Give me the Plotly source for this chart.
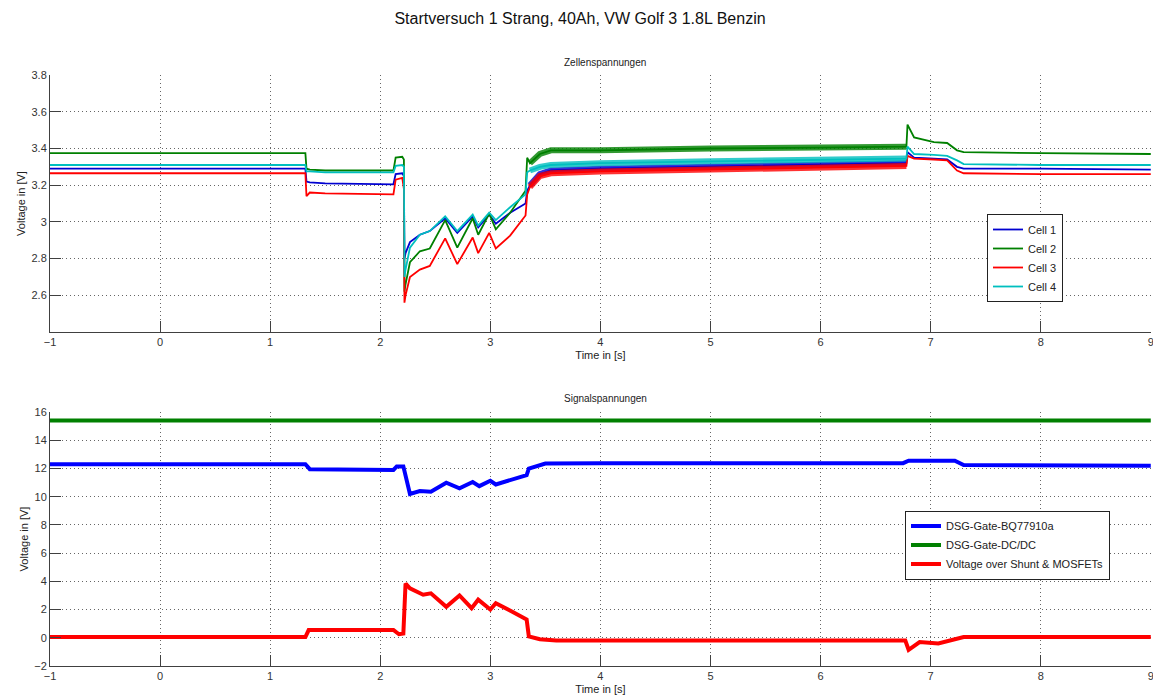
import plotly.graph_objects as go

# ---------------- data ----------------
t_cell = [-1, 1.32, 1.33, 1.36, 1.5, 2.12, 2.14, 2.20, 2.215, 2.22, 2.23, 2.27, 2.36, 2.45,
          2.59, 2.70, 2.84, 2.89, 2.99, 3.05, 3.18, 3.32, 3.335, 3.36, 3.45, 3.55, 4.0, 5.0,
          6.0, 6.78, 6.79, 6.85, 7.03, 7.15, 7.24, 7.30, 8.0, 9.0]

cell1 = [3.29, 3.29, 3.22, 3.215, 3.21, 3.205, 3.26, 3.265, 3.25, 2.80, 2.83, 2.89, 2.93, 2.95,
         3.02, 2.94, 3.03, 2.97, 3.04, 2.99, 3.05, 3.10, 3.17, 3.20, 3.26, 3.28, 3.29, 3.30,
         3.31, 3.32, 3.38, 3.35, 3.345, 3.34, 3.30, 3.29, 3.29, 3.285]
cell2 = [3.375, 3.375, 3.29, 3.285, 3.28, 3.28, 3.35, 3.355, 3.34, 2.62, 2.66, 2.78, 2.84, 2.855,
         3.01, 2.86, 3.02, 2.93, 3.045, 2.96, 3.05, 3.17, 3.35, 3.32, 3.37, 3.39, 3.39, 3.40,
         3.405, 3.41, 3.53, 3.46, 3.435, 3.43, 3.39, 3.38, 3.375, 3.37]
cell3 = [3.265, 3.265, 3.14, 3.16, 3.155, 3.15, 3.23, 3.24, 3.18, 2.56, 2.60, 2.70, 2.74, 2.76,
         2.91, 2.77, 2.915, 2.83, 2.94, 2.855, 2.925, 3.035, 3.15, 3.19, 3.25, 3.265, 3.275, 3.285,
         3.295, 3.305, 3.36, 3.345, 3.34, 3.335, 3.28, 3.265, 3.26, 3.26]
cell4 = [3.31, 3.31, 3.275, 3.275, 3.27, 3.27, 3.305, 3.31, 3.30, 2.70, 2.74, 2.86, 2.93, 2.95,
         3.03, 2.95, 3.04, 2.98, 3.05, 3.01, 3.08, 3.15, 3.27, 3.28, 3.30, 3.31, 3.32, 3.33,
         3.34, 3.345, 3.41, 3.37, 3.365, 3.36, 3.335, 3.315, 3.31, 3.31]

t_bq = [-1, 1.32, 1.36, 2.12, 2.15, 2.21, 2.27, 2.36, 2.46, 2.60, 2.72, 2.84, 2.90, 3.00, 3.05,
        3.20, 3.33, 3.35, 3.50, 4.0, 6.75, 6.80, 7.22, 7.30, 9.0]
v_bq = [12.3, 12.3, 11.95, 11.9, 12.15, 12.15, 10.2, 10.4, 10.35, 10.99, 10.6, 11.04, 10.75, 11.13,
        10.87, 11.23, 11.53, 12.0, 12.35, 12.38, 12.38, 12.55, 12.55, 12.25, 12.2]

t_dcdc = [-1, 9]
v_dcdc = [15.4, 15.4]

t_shunt = [-1, 1.32, 1.35, 2.12, 2.17, 2.21, 2.23, 2.27, 2.39, 2.46, 2.60, 2.72, 2.83, 2.89,
           3.00, 3.05, 3.20, 3.33, 3.35, 3.45, 3.6, 6.77, 6.80, 6.90, 7.07, 7.25, 7.30, 9.0]
v_shunt = [0.05, 0.05, 0.55, 0.55, 0.25, 0.3, 3.85, 3.5, 3.05, 3.15, 2.2, 3.0, 2.1, 2.7,
           2.0, 2.45, 1.85, 1.3, 0.1, -0.1, -0.2, -0.2, -0.85, -0.3, -0.4, -0.05, 0.05, 0.05]

cell_names = ["Cell 1", "Cell 2", "Cell 3", "Cell 4"]
sig_names = ["DSG-Gate-BQ77910a", "DSG-Gate-DC/DC", "Voltage over Shunt & MOSFETs"]

x_ticks = [-1, 0, 1, 2, 3, 4, 5, 6, 7, 8, 9]
y1_ticks = [2.6, 2.8, 3.0, 3.2, 3.4, 3.6, 3.8]
y1_labels = ["2.6", "2.8", "3", "3.2", "3.4", "3.6", "3.8"]
y2_ticks = [-2, 0, 2, 4, 6, 8, 10, 12, 14, 16]

# ---------------- styling ----------------
FONT = "Liberation Sans, Arial, Helvetica, sans-serif"
cell_colors = ["#0000d0", "#008000", "#ff0000", "#00bfbf"]
sig_colors = ["#0000ff", "#008000", "#ff0000"]

fig = go.Figure()

noisy_lo, noisy_hi = 3.36, 6.78
for name, vals, col in zip(cell_names, [cell1, cell2, cell3, cell4], cell_colors):
    fig.add_trace(go.Scatter(x=t_cell, y=vals, mode="lines", name=name,
                             line=dict(color=col, width=1.8), xaxis="x", yaxis="y",
                             legend="legend"))
    bx = [t for t in t_cell if noisy_lo <= t <= noisy_hi]
    by = [v for t, v in zip(t_cell, vals) if noisy_lo <= t <= noisy_hi]
    fig.add_trace(go.Scatter(x=bx, y=by, mode="lines", showlegend=False,
                             line=dict(color=col, width=6), opacity=0.8,
                             xaxis="x", yaxis="y", hoverinfo="skip"))

for name, tx, vals, col in zip(sig_names, [t_bq, t_dcdc, t_shunt],
                               [v_bq, v_dcdc, v_shunt], sig_colors):
    fig.add_trace(go.Scatter(x=tx, y=vals, mode="lines", name=name,
                             line=dict(color=col, width=4), xaxis="x2", yaxis="y2",
                             legend="legend2"))

# The page body adds an 8px offset; work in reference-pixel coordinates.
OFF = 8
W, H = 1161 - OFF, 697 - OFF
L, R = 50 - OFF, 10
PW = W - L - R


def py(p):
    return 1 - (p - OFF) / H


def px(p):
    return (p - 50) / PW


axis_common = dict(showline=True, linecolor="#404040", linewidth=1, ticks="inside",
                   ticklen=11, tickcolor="#404040", showgrid=True, gridcolor="#666666",
                   griddash="1px,3px", gridwidth=1, zeroline=False, mirror=False,
                   automargin=False,
                   tickfont=dict(family=FONT, size=11, color="#333333"))

fig.update_layout(
    width=W, height=H,
    paper_bgcolor="white", plot_bgcolor="white",
    margin=dict(l=L, r=R, t=0, b=0, autoexpand=False),
    font=dict(family=FONT, size=11, color="#222222"),
    title=dict(text="Startversuch 1 Strang, 40Ah, VW Golf 3 1.8L Benzin",
               x=px(580), xanchor="center", xref="paper", y=py(18), yanchor="middle",
               automargin=False,
               font=dict(family=FONT, size=16, color="#111111")),
    xaxis=dict(domain=[0, 1], range=[-1, 9.002], tickvals=x_ticks, anchor="y",
               title=dict(text="Time in [s]", standoff=4, font=dict(size=11)),
               **axis_common),
    yaxis=dict(domain=[py(332), py(75)], range=[2.4, 3.8005], tickvals=y1_ticks,
               ticktext=y1_labels, anchor="x",
               title=dict(text="Voltage in [V]", standoff=3, font=dict(size=11)),
               **axis_common),
    xaxis2=dict(domain=[0, 1], range=[-1, 9.002], tickvals=x_ticks, anchor="y2",
                title=dict(text="Time in [s]", standoff=4, font=dict(size=11)),
                **axis_common),
    yaxis2=dict(domain=[py(666), py(412)], range=[-2, 16.005], tickvals=y2_ticks,
                anchor="x2",
                title=dict(text="Voltage in [V]", standoff=3, font=dict(size=11)),
                **axis_common),
    legend=dict(x=px(987), y=py(258), xanchor="left", yanchor="middle",
                bgcolor="white", bordercolor="#222222", borderwidth=1,
                font=dict(family=FONT, size=11, color="#222222"),
                tracegroupgap=0, itemwidth=30),
    legend2=dict(x=px(905), y=py(545), xanchor="left", yanchor="middle",
                 bgcolor="white", bordercolor="#222222", borderwidth=1,
                 font=dict(family=FONT, size=11, color="#222222"),
                 tracegroupgap=0, itemwidth=30),
    annotations=[
        dict(text="Zellenspannungen", x=px(605), xref="paper", y=py(62), yref="paper",
             showarrow=False, font=dict(family=FONT, size=10, color="#222222"),
             xanchor="center", yanchor="middle"),
        dict(text="Signalspannungen", x=px(605), xref="paper", y=py(399), yref="paper",
             showarrow=False, font=dict(family=FONT, size=10, color="#222222"),
             xanchor="center", yanchor="middle"),
    ],
)

fig.write_html("out.html")
